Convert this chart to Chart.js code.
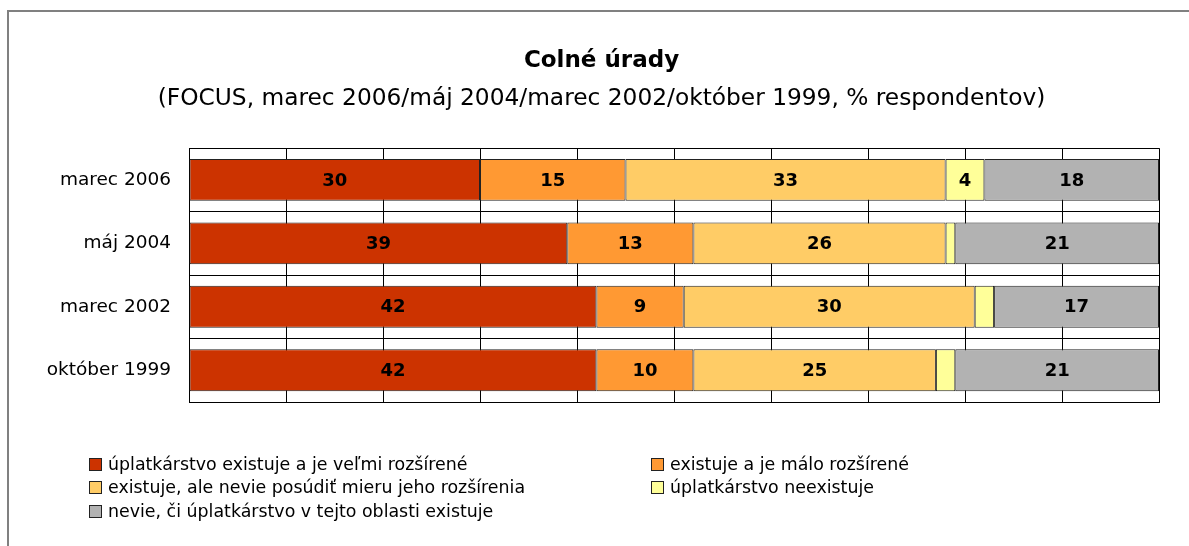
<!DOCTYPE html>
<html><head><meta charset="utf-8">
<script src="https://cdn.jsdelivr.net/npm/chart.js@4"></script>
<style>
html,body{margin:0;padding:0;background:#fff;width:1189px;height:546px;overflow:hidden;font-family:"DejaVu Sans",sans-serif;}
#frame{position:absolute;left:7px;top:10px;width:1300px;height:700px;border-left:2px solid #808080;border-top:2px solid #808080;box-sizing:border-box;}
#wrap{position:absolute;left:0;top:0;width:1189px;height:546px;}
.item{position:absolute;display:flex;align-items:center;white-space:nowrap;font-size:17.4px;line-height:20px;color:#000;height:20px;}
.box{width:11px;height:11px;border:1px solid #222;margin-right:6px;flex:none;}
</style></head>
<body>
<div id="frame"></div>
<div id="wrap"><canvas id="c" width="1189" height="546"></canvas></div>
<div id="legend"></div>
<script>
const categories = ['marec 2006', 'máj 2004', 'marec 2002', 'október 1999'];
const seriesNames = [
  'úplatkárstvo existuje a je veľmi rozšírené',
  'existuje a je málo rozšírené',
  'existuje, ale nevie posúdiť mieru jeho rozšírenia',
  'úplatkárstvo neexistuje',
  'nevie, či úplatkárstvo v tejto oblasti existuje'
];
const veryWidespread = [30, 39, 42, 42];
const littleWidespread = [15, 13, 9, 10];
const cannotJudge = [33, 26, 30, 25];
const notExisting = [4, 1, 2, 2];
const dontKnow = [18, 21, 17, 21];
const seriesColors = ['#CC3300', '#FF9933', '#FFCC66', '#FFFF99', '#B2B2B2'];
const xMin = 0, xMax = 100, xStep = 10;
const titleText = 'Colné úrady';
const subtitleText = '(FOCUS, marec 2006/máj 2004/marec 2002/október 1999, % respondentov)';

const seriesValues = [veryWidespread, littleWidespread, cannotJudge, notExisting, dontKnow];
const FONT = 'DejaVu Sans';

const valueLabels = {
  id: 'valueLabels',
  afterDatasetsDraw(chart) {
    const ctx = chart.ctx;
    ctx.save();
    ctx.font = 'bold 18px "' + FONT + '"';
    ctx.fillStyle = '#000';
    ctx.textAlign = 'center';
    ctx.textBaseline = 'middle';
    chart.data.datasets.forEach((ds, i) => {
      const meta = chart.getDatasetMeta(i);
      meta.data.forEach((el, j) => {
        const v = ds.data[j];
        if (v < 3) return;
        const cx = (el.x + el.base) / 2;
        ctx.fillText(String(v), cx, el.y + 1);
      });
    });
    ctx.restore();
  }
};

const chart = new Chart(document.getElementById('c'), {
  type: 'bar',
  data: {
    labels: categories,
    datasets: seriesValues.map((vals, i) => ({
      label: seriesNames[i],
      data: vals,
      backgroundColor: seriesColors[i],
      borderColor: '#222',
      borderWidth: 1,
      borderSkipped: false,
      barPercentage: 0.66,
      categoryPercentage: 1
    }))
  },
  options: {
    indexAxis: 'y',
    responsive: false,
    animation: false,
    devicePixelRatio: 1,
    layout: { padding: { left: 44, right: 30, top: 0, bottom: 144 } },
    plugins: {
      legend: { display: false },
      tooltip: { enabled: false },
      title: { display: true, text: titleText, color: '#000',
        font: { family: FONT, size: 23, weight: 'bold' }, padding: { top: 47, bottom: 9 } },
      subtitle: { display: true, text: subtitleText, color: '#000',
        font: { family: FONT, size: 23.3 }, padding: { top: 1, bottom: 35.6 } }
    },
    scales: {
      x: {
        stacked: true, min: xMin, max: xMax,
        ticks: { display: false, stepSize: xStep },
        grid: { color: '#000', lineWidth: 1, drawTicks: false },
        border: { display: true, color: '#000' }
      },
      y: {
        stacked: true,
        ticks: { color: '#000', font: { family: FONT, size: 18.5 }, padding: 18 },
        grid: { color: '#000', lineWidth: 1, drawTicks: false, offset: true },
        border: { display: true, color: '#000' },
        afterFit(s) { s.width = 145; }
      }
    }
  },
  plugins: [valueLabels]
});

// legend built from the chart's datasets
const legendPos = [[89, 454], [651, 454], [89, 477], [651, 477], [89, 501]];
const legendEl = document.getElementById('legend');
chart.data.datasets.forEach((ds, i) => {
  const it = document.createElement('div');
  it.className = 'item';
  it.style.left = legendPos[i][0] + 'px';
  it.style.top = legendPos[i][1] + 'px';
  const b = document.createElement('span');
  b.className = 'box';
  b.style.background = ds.backgroundColor;
  const t = document.createElement('span');
  t.textContent = ds.label;
  it.appendChild(b); it.appendChild(t);
  legendEl.appendChild(it);
});
</script>
</body></html>
